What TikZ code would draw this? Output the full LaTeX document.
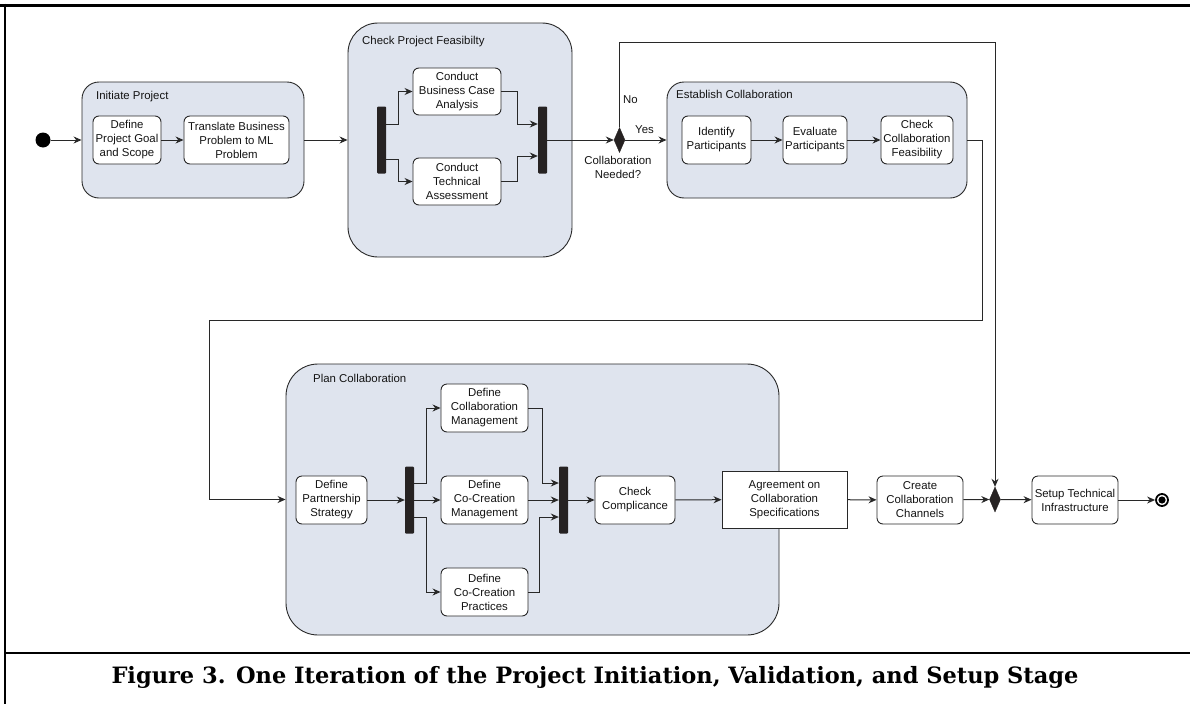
\documentclass[tikz,border=0pt]{standalone}
\usepackage{fontspec}
\setmainfont{Liberation Sans}
\newfontfamily\capfont{DejaVu Serif}
\usetikzlibrary{arrows.meta,shapes.geometric}
\definecolor{regionfill}{RGB}{223,228,238}
\definecolor{barfill}{RGB}{38,34,34}
\definecolor{edgegray}{RGB}{40,40,40}
\definecolor{textdark}{RGB}{20,20,20}
\tikzset{
  boxfont/.style={font=\fontsize{11.4}{14}\selectfont,text=textdark},
  region/.style={draw=edgegray,fill=regionfill,line width=0.9pt,inner sep=0pt},
  act/.style={boxfont,draw=edgegray,fill=white,line width=0.9pt,rounded corners=6pt,
    align=center,inner sep=1pt,minimum height=48pt},
  spec/.style={boxfont,draw=edgegray,fill=white,line width=0.9pt,
    align=center,inner sep=1pt,minimum height=57pt},
  bar/.style={fill=barfill,rounded corners=1pt,minimum width=9pt,minimum height=67pt,inner sep=0pt},
  decision/.style={diamond,fill=barfill,draw=barfill,inner sep=0pt,minimum width=11pt,minimum height=25pt},
  flow/.style={draw=edgegray,line width=1pt,-{Stealth[length=8pt,width=7pt]}},
  tag/.style={boxfont,anchor=west,inner sep=0pt}
}

\begin{document}
\begin{tikzpicture}[x=1pt,y=-1pt]

  \useasboundingbox (0,0) rectangle (1190,704);

  % ── FRAME ──────────────────────────────────────────────────────────────────
  \draw[line width=3pt] (0,5) -- (1190,5);
  \draw[line width=2pt] (5,3.5) -- (5,704);
  \draw[line width=2pt] (5,653) -- (1190,653);

  % ── REGIONS (grouped activities) ───────────────────────────────────────────
  \node[region,rounded corners=17pt,minimum width=222pt,minimum height=116pt] (initiate) at (193,140) {};
  \node[region,rounded corners=30pt,minimum width=224pt,minimum height=234pt] (feas) at (460,140) {};
  \node[region,rounded corners=17pt,minimum width=300pt,minimum height=116pt] (estab) at (817,140) {};
  \node[region,rounded corners=32pt,minimum width=493pt,minimum height=271pt] (plan) at (532.5,499.5) {};

  \node[tag] (initiatetag) at (96,97) {Initiate Project};
  \node[tag] (feastag) at (362,42) {Check Project Feasibilty};
  \node[tag] (estabtag) at (676,94) {Establish Collaboration};
  \node[tag] (plantag) at (313,378) {Plan Collaboration};

  % ── START / END ────────────────────────────────────────────────────────────
  \node[circle,fill=black,minimum size=15pt,inner sep=0pt] (start) at (43,140) {};
  \node[circle,draw=black,line width=1.8pt,fill=white,minimum size=12pt,inner sep=0pt] (final) at (1162,500) {};
  \fill[black] (final) circle (3.6pt);

  % ── ACTIVITIES ─────────────────────────────────────────────────────────────
  \node[act,minimum width=68pt] (goal) at (127,140) {Define\\Project Goal\\and Scope};
  \node[act,minimum width=105pt] (translate) at (236.5,140) {Translate Business\\Problem to ML\\Problem};

  \node[bar] (fork1) at (381.5,140) {};
  \node[act,minimum width=88pt,minimum height=47pt] (biz) at (457,91.5) {Conduct\\Business Case\\Analysis};
  \node[act,minimum width=88pt,minimum height=47pt] (tech) at (457,181.5) {Conduct\\Technical\\Assessment};
  \node[bar] (join1) at (542.5,140) {};

  \node[decision] (collab) at (619.5,140) {};
  \node[boxfont,align=center,inner sep=0pt] (collabtag) at (618,167) {Collaboration\\Needed?};
  \node[boxfont,inner sep=0pt] (yestag) at (644.5,130) {Yes};
  \node[tag] (notag) at (623,100) {No};

  \node[act,minimum width=69pt] (identify) at (716.5,140) {Identify\\Participants};
  \node[act,minimum width=64pt] (evaluate) at (815,140) {Evaluate\\Participants};
  \node[act,minimum width=72pt] (checkfeas) at (917,140) {Check\\Collaboration\\Feasibility};

  \node[act,minimum width=71pt] (partner) at (331.5,500) {Define\\Partnership\\Strategy};
  \node[bar] (fork2) at (409.5,500) {};
  \node[act,minimum width=87pt] (collabmgmt) at (484.5,408) {Define\\Collaboration\\Management};
  \node[act,minimum width=87pt] (cocremgmt) at (484.5,500) {Define\\Co-Creation\\Management};
  \node[act,minimum width=87pt] (cocrepract) at (484.5,592) {Define\\Co-Creation\\Practices};
  \node[bar] (join2) at (563.5,500) {};
  \node[act,minimum width=80pt] (compliance) at (635,500) {Check\\Complicance};

  \node[spec,minimum width=125pt] (agree) at (784.5,499.5) {Agreement on\\Collaboration\\Specifications};
  \node[act,minimum width=86pt] (channels) at (920,500) {Create\\Collaboration\\Channels};
  \node[decision] (merge) at (995,499.5) {};
  \node[act,minimum width=86pt] (infra) at (1075,500) {Setup Technical\\Infrastructure};

  % ── FLOWS ──────────────────────────────────────────────────────────────────
  \coordinate (notop) at (995,42);
  \coordinate (loopright) at (982,320);
  \coordinate (loopleft) at (209,320);

  \draw[flow] (start) -- (initiate.west);
  \draw[flow] (goal) -- (translate);
  \draw[flow] (initiate.east) -- (feas.west);

  \draw[flow] ([yshift=16pt]fork1.east) -| ([xshift=-14pt]biz.west) -- (biz.west);
  \draw[flow] ([yshift=-19pt]fork1.east) -| ([xshift=-14pt]tech.west) -- (tech.west);
  \draw[flow] (biz.east) -| ([xshift=-20pt,yshift=16pt]join1.west) -- ([yshift=16pt]join1.west);
  \draw[flow] (tech.east) -| ([xshift=-20pt,yshift=-16pt]join1.west) -- ([yshift=-16pt]join1.west);
  \draw[flow] (join1.east) -- (collab.west);

  \draw[flow] (collab.east) -- (estab.west);
  \draw[flow] (collab.north) |- (notop) -- (merge.north);

  \draw[flow] (identify) -- (evaluate);
  \draw[flow] (evaluate) -- (checkfeas);
  \draw[flow] (estab.east) -| (loopright) -- (loopleft) |- (plan.west);

  \draw[flow] (partner) -- (fork2);
  \draw[flow] ([yshift=17pt]fork2.east) -| ([xshift=-14pt]collabmgmt.west) -- (collabmgmt.west);
  \draw[flow] (fork2.east) -- (cocremgmt.west);
  \draw[flow] ([yshift=-17pt]fork2.east) -| ([xshift=-14pt]cocrepract.west) -- (cocrepract.west);
  \draw[flow] (collabmgmt.east) -| ([xshift=-16pt,yshift=17pt]join2.west) -- ([yshift=17pt]join2.west);
  \draw[flow] (cocremgmt.east) -- (join2.west);
  \draw[flow] (cocrepract.east) -| ([xshift=-19pt,yshift=-17pt]join2.west) -- ([yshift=-17pt]join2.west);
  \draw[flow] (join2.east) -- (compliance);
  \draw[flow] (compliance) -- (agree);
  \draw[flow] (agree) -- (channels);
  \draw[flow] (channels) -- (merge.west);
  \draw[flow] (merge.east) -- (infra);
  \draw[flow] (infra) -- (final);

  % ── CAPTION ────────────────────────────────────────────────────────────────
  \node[font=\capfont\bfseries\fontsize{22.5}{26}\selectfont] (caption) at (595,677)
    {Figure 3. One Iteration of the Project Initiation, Validation, and Setup Stage};

\end{tikzpicture}
\end{document}
